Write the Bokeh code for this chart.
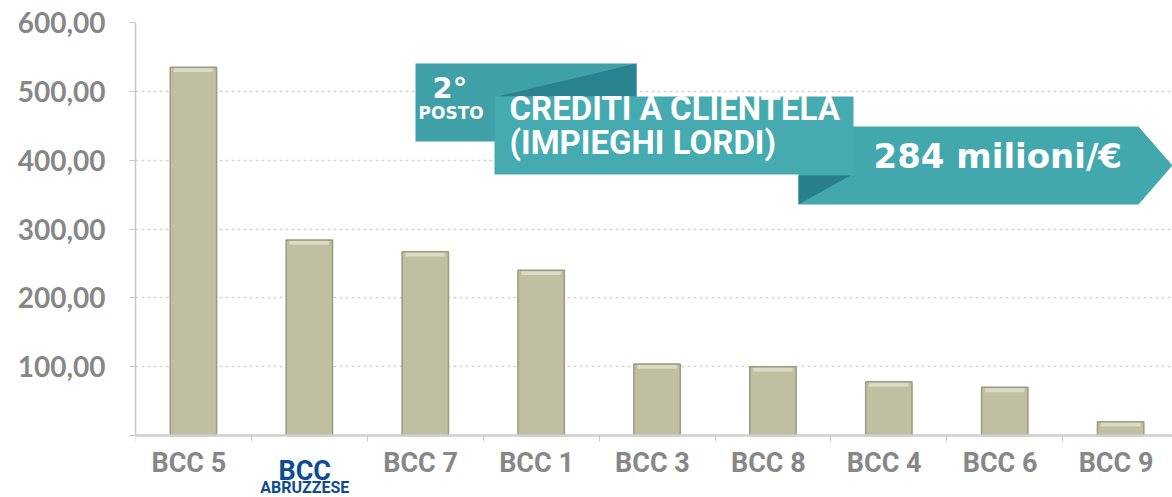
from bokeh.plotting import figure
from bokeh.models import FixedTicker, Label, Range1d
from bokeh.embed import file_html
from bokeh.resources import INLINE

# ---- data ----
categories = ["BCC 5", "BCC ABRUZZESE", "BCC 7", "BCC 1", "BCC 3", "BCC 8", "BCC 4", "BCC 6", "BCC 9"]
values = [535, 284, 267, 240, 104, 100, 78, 70, 20]
x_tick_labels = ["BCC 5", "", "BCC 7", "BCC 1", "BCC 3", "BCC 8", "BCC 4", "BCC 6", "BCC 9"]
y_ticks = [0, 100, 200, 300, 400, 500, 600]
y_tick_labels = ["", "100,00", "200,00", "300,00", "400,00", "500,00", "600,00"]
highlight_top = "BCC"
highlight_bottom = "ABRUZZESE"
banner_rank = "2°"
banner_rank_sub = "POSTO"
banner_title = ["CREDITI A CLIENTELA", "(IMPIEGHI LORDI)"]
banner_value = "284 milioni/€"

W, H = 1172, 497
LEFT, TOP = 135, 22
PX_PER_UNIT = 413 / 600.0          # vertical scale of the value axis
Y_MIN = -(H - 435) / PX_PER_UNIT   # room under the zero line for the category labels
X_MAX = (W - LEFT) / 115.9
LABEL_SHIFT = 0.04                 # labels sit slightly left of bar centres

xs = [i + 0.5 for i in range(len(categories))]
label_pos = [x - LABEL_SHIFT for x in xs]
bounds = list(range(len(categories)))

p = figure(width=W, height=H, output_backend="svg", toolbar_location=None,
           x_range=Range1d(0, X_MAX), y_range=Range1d(Y_MIN, 600),
           min_border_left=LEFT, min_border_right=0, min_border_top=TOP,
           min_border_bottom=0)
p.outline_line_color = None
p.background_fill_color = "white"
p.border_fill_color = "white"

# grid
p.xgrid.grid_line_color = None
p.ygrid.ticker = FixedTicker(ticks=y_ticks)
p.ygrid.grid_line_color = "#d4d4d4"
p.ygrid.grid_line_dash = "3 3"
p.ygrid.grid_line_width = 1.5

# bars
p.vbar(x=xs, top=values, bottom=0, width=0.40, fill_color="#bfc0a1",
       line_color="#9a9b7e", line_width=1.5)
p.vbar(x=xs, top=[v - 1.5 for v in values], bottom=[v - 7 for v in values], width=0.34,
       fill_color="#dadbc2", line_color=None)

# axes
ya = p.yaxis[0]
ya.ticker = FixedTicker(ticks=y_ticks)
ya.bounds = (0, 600)
ya.major_label_overrides = dict(zip(y_ticks, y_tick_labels))
ya.major_label_text_font = "Lato"
ya.major_label_text_font_style = "bold"
ya.major_label_text_font_size = "28px"
ya.major_label_text_color = "#878787"
ya.major_label_standoff = 24
ya.axis_line_color = "#c8c8c8"
ya.axis_line_width = 1.5
ya.major_tick_line_color = "#c8c8c8"
ya.major_tick_out = 6
ya.major_tick_in = 0
ya.minor_tick_line_color = None

xa = p.xaxis[0]
xa.fixed_location = 0
xa.ticker = FixedTicker(ticks=label_pos, minor_ticks=bounds)
xa.major_label_overrides = dict(zip(label_pos, x_tick_labels))
xa.major_label_text_font = "Roboto"
xa.major_label_text_font_style = "bold"
xa.major_label_text_font_size = "27px"
xa.major_label_text_color = "#878787"
xa.major_label_standoff = 5
xa.axis_line_color = "#cfcfcf"
xa.axis_line_width = 2.5
xa.major_tick_line_color = None
xa.minor_tick_line_color = "#c8c8c8"
xa.minor_tick_out = 6
xa.minor_tick_in = 0

# highlighted category label
p.add_layout(Label(x=label_pos[1], y=-(470 - 435) / PX_PER_UNIT, text=highlight_top, text_align="center",
                   text_baseline="alphabetic", text_color="#0d4b94",
                   text_font="Roboto", text_font_style="bold", text_font_size="27px"))
p.add_layout(Label(x=label_pos[1], y=-(487 - 435) / PX_PER_UNIT, text=highlight_bottom, text_align="center",
                   text_baseline="alphabetic", text_color="#0d4b94",
                   text_font="Roboto", text_font_style="bold", text_font_size="16px"))

# banner (positioned in the chart's own units)
def dx(sx):
    return (sx - LEFT) / 115.9

def dy(sy):
    return (435 - sy) / PX_PER_UNIT

p.quad(left=dx(415), right=dx(636), top=dy(63), bottom=dy(141), fill_color="#3fa0a8", line_color=None)
p.patch([dx(636), dx(636), dx(497)], [dy(63), dy(96), dy(96)], fill_color="#2a8290", line_color=None)
p.patch([dx(798), dx(1138), dx(1172), dx(1138), dx(798)],
        [dy(126), dy(126), dy(165), dy(204), dy(204)], fill_color="#43a8ae", line_color=None)
p.patch([dx(798), dx(850), dx(798)], [dy(175), dy(175), dy(204)], fill_color="#2a7f8d", line_color=None)
p.quad(left=dx(494), right=dx(853), top=dy(96), bottom=dy(174), fill_color="#45abb0", line_color=None)

p.add_layout(Label(x=dx(432), y=dy(104), text=banner_rank, text_color="white",
                   text_font="DejaVu Sans", text_font_style="bold", text_font_size="29px"))
p.add_layout(Label(x=dx(418), y=dy(122), text=banner_rank_sub, text_color="white",
                   text_font="DejaVu Sans", text_font_style="bold", text_font_size="17px"))
p.add_layout(Label(x=dx(509), y=dy(127), text=banner_title[0], text_color="white",
                   text_font="Roboto", text_font_style="bold", text_font_size="33px"))
p.add_layout(Label(x=dx(509), y=dy(161), text=banner_title[1], text_color="white",
                   text_font="Roboto", text_font_style="bold", text_font_size="33px"))
p.add_layout(Label(x=dx(873), y=dy(175), text=banner_value, text_color="white",
                   text_font="DejaVu Sans", text_font_style="bold", text_font_size="34px"))

open("out.html", "w").write(file_html(p, INLINE))
